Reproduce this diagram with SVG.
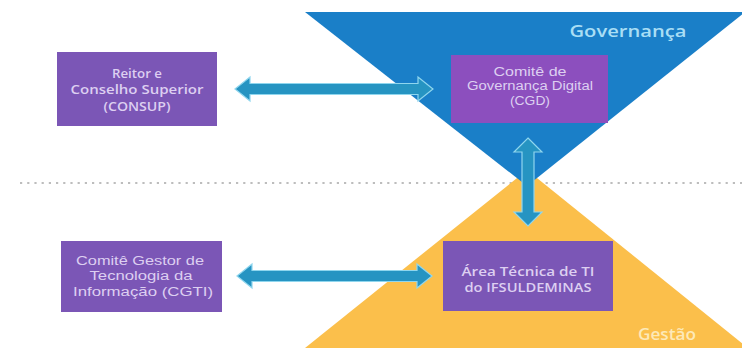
<svg xmlns="http://www.w3.org/2000/svg" width="742" height="348" viewBox="0 0 742 348">
<defs>
<style>
.box{fill:#7b56b6;}
.boxt{font-family:"Liberation Sans",Arial,sans-serif;font-size:12px;fill:#ddcff1;text-anchor:middle;}
.boxb{font-family:"Open Sans","DejaVu Sans",sans-serif;font-size:12px;font-weight:600;fill:#ddcff1;text-anchor:middle;}
.arrow{fill:#2694c2;stroke:#8fd6ee;stroke-width:1.2;stroke-linejoin:miter;}
.zone{font-family:"Open Sans","DejaVu Sans",sans-serif;font-weight:600;}
</style>
</defs>
<rect width="742" height="348" fill="#ffffff"/>
<line x1="20" y1="183" x2="742" y2="183" stroke="#bdbdbd" stroke-width="2.2" stroke-dasharray="2.2 5"/>
<g id="gestao-zone">
<polygon points="527,170 305,348 748,348" fill="#fbbf4b"/>
<text class="zone" x="667" y="340" font-size="16" fill="#fde9b8" text-anchor="middle" textLength="58" lengthAdjust="spacingAndGlyphs">Gestão</text>
</g>
<g id="governanca-zone">
<polygon points="305,12 745,12 527,186" fill="#1a7fc8"/>
<text class="zone" x="628" y="37" font-size="17" fill="#a9def5" text-anchor="middle" textLength="117" lengthAdjust="spacingAndGlyphs">Governança</text>
</g>
<g id="connectors">
<polygon class="arrow" points="235,89 250,77 250,83.5 418,83.5 418,77 433,89 418,101 418,94.5 250,94.5 250,101"/>
<polygon class="arrow" points="237,276 252,264 252,270.5 417,270.5 417,264 432,276 417,288 417,281.5 252,281.5 252,288"/>
<polygon class="arrow" points="528,138 542,152 534,152 534,212 542,212 528,226 514,212 522,212 522,152 514,152"/>
</g>
<g id="consup">
<rect class="box" x="57" y="52" width="160" height="74"/>
<text class="boxb" x="137" y="78" textLength="50" lengthAdjust="spacingAndGlyphs">Reitor e</text>
<text class="boxb" x="137" y="94" textLength="133" lengthAdjust="spacingAndGlyphs">Conselho Superior</text>
<text class="boxb" x="137" y="111" textLength="67" lengthAdjust="spacingAndGlyphs">(CONSUP)</text>
</g>
<g id="cgd">
<rect x="451" y="55" width="157" height="68" fill="#8c4fbe"/>
<text class="boxt" x="530" y="76" textLength="73" lengthAdjust="spacingAndGlyphs">Comitê de</text>
<text class="boxt" x="530" y="90" textLength="126" lengthAdjust="spacingAndGlyphs">Governança Digital</text>
<text class="boxt" x="530" y="105" textLength="40" lengthAdjust="spacingAndGlyphs">(CGD)</text>
</g>
<g id="cgti">
<rect class="box" x="61" y="241" width="161" height="71"/>
<text class="boxt" x="140" y="265" textLength="128" lengthAdjust="spacingAndGlyphs">Comitê Gestor de</text>
<text class="boxt" x="141" y="280" textLength="103" lengthAdjust="spacingAndGlyphs">Tecnologia da</text>
<text class="boxt" x="143" y="296" textLength="140" lengthAdjust="spacingAndGlyphs">Informação (CGTI)</text>
</g>
<g id="area-tecnica">
<rect class="box" x="443" y="241" width="170" height="70"/>
<text class="boxb" x="528" y="276" textLength="133" lengthAdjust="spacingAndGlyphs">Área Técnica de TI</text>
<text class="boxb" x="528" y="292" textLength="127" lengthAdjust="spacingAndGlyphs">do IFSULDEMINAS</text>
</g>
</svg>
